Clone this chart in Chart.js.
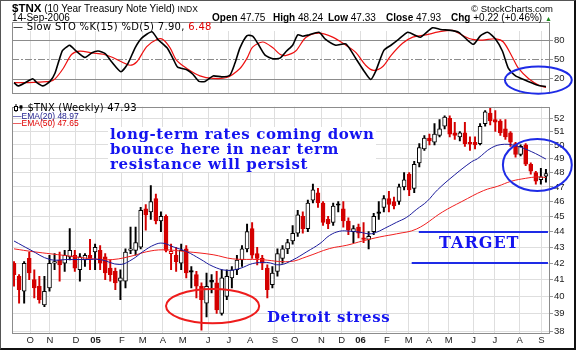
<!DOCTYPE html>
<html>
<head>
<meta charset="utf-8">
<script src="https://cdn.jsdelivr.net/npm/chart.js@4.4.1/dist/chart.umd.min.js"></script>
<style>
  html, body { margin: 0; padding: 0; background: #fff; }
  #wrap { position: relative; width: 576px; height: 350px; overflow: hidden; background: #fff; }
  canvas { position: absolute; left: 0; }
  #sto { top: 0; }
  #price { top: 100px; }
  .t { position: absolute; white-space: nowrap; font-family: "Liberation Sans", Arial, sans-serif; font-size: 10px; line-height: 12px; color: #000; }
  .lg { position: absolute; white-space: nowrap; font-family: "DejaVu Sans", sans-serif; font-size: 10px; line-height: 12px; letter-spacing: .3px; }
  .note { position: absolute; white-space: nowrap; font-family: "DejaVu Serif", serif; font-weight: bold; font-size: 15px; line-height: 15px; color: #1414f0; letter-spacing: .6px; }
  #border { position: absolute; left: 0; top: 0; width: 576px; height: 350px; box-sizing: border-box;
            border-left: 1px solid #555; border-top: 1px solid #555; border-right: 2px solid #111; border-bottom: 2px solid #111; }
</style>
</head>
<body>
<div id="wrap">
  <canvas id="sto" width="576" height="101"></canvas>
  <canvas id="price" width="576" height="250"></canvas>

  <!-- header -->
  <div class="t" style="left:12px;top:2px"><b style="font-size:11.5px">$TNX</b> (10 Year Treasury Note Yield) <span style="font-size:8.5px">INDX</span></div>
  <div class="t" style="right:23px;top:3px;font-size:9.5px">&copy; StockCharts.com</div>
  <div class="t" style="left:12px;top:12px">14-Sep-2006</div>
  <div class="t" style="left:212px;top:12px"><b>Open</b> 47.75</div>
  <div class="t" style="left:273px;top:12px"><b>High</b> 48.24</div>
  <div class="t" style="left:328px;top:12px"><b>Low</b> 47.33</div>
  <div class="t" style="left:386px;top:12px"><b>Close</b> 47.93</div>
  <div class="t" style="left:451px;top:12px"><b>Chg</b> +0.22 (+0.46%) <span style="font-size:7px;color:#1a8a1a">&#9650;</span></div>

  <!-- panel legends -->
  <div class="lg" style="left:13px;top:21px">&mdash; Slow STO %K(15) %D(5) 7.90, <span style="color:#e00000">6.48</span></div>
  <div class="lg" style="left:14px;top:102px;letter-spacing:.2px">
    <svg width="10" height="8" style="vertical-align:-1px"><line x1="2" y1="0" x2="2" y2="8" stroke="#000"/><rect x="0.5" y="2.5" width="3" height="4" fill="#fff" stroke="#000"/><line x1="7" y1="1" x2="7" y2="7" stroke="#000"/><rect x="5.5" y="1.5" width="3" height="3" fill="#000"/></svg> $TNX (Weekly) 47.93</div>
  <div class="t" style="left:13px;top:112px;font-size:8.5px;line-height:8px;color:#1c1c8c">&mdash;EMA(20) 48.97</div>
  <div class="t" style="left:13px;top:119px;font-size:8.5px;line-height:8px;color:#e00000">&mdash;EMA(50) 47.65</div>

  <!-- hand-written notes -->
  <div class="note" style="left:108px;top:127px;background:#fff;padding:0 2px">long-term rates coming down<br>bounce here in near term<br>resistance will persist</div>
  <div class="note" style="left:267px;top:310px">Detroit stress</div>
  <div class="note" style="left:439px;top:235px;font-size:16px;letter-spacing:1px">TARGET</div>

  <div id="border"></div>
</div>

<script>
// Weekly candles, week 0 = 10-Sep-2004 ... week 105 = 15-Sep-2006
let opens = [42.0, 41.2, 40.3, 42.3, 41.0, 40.6, 39.5, 40.5, 42.0, 42.2,
             42.0, 42.4, 42.5, 41.6, 42.2, 42.5, 42.7, 42.8, 42.4, 41.7,
             41.5, 40.9, 40.9, 42.8, 42.8, 43.0, 45.5, 45.3, 46.2, 44.7,
             45.0, 42.6, 42.5, 42.0, 42.9, 41.55, 41.3, 40.6, 39.6, 40.95,
             40.8, 39.0, 40.0, 41.1, 41.6, 42.2, 42.9, 44.2, 42.6, 42.3,
             41.7, 40.7, 41.5, 42.3, 42.9, 43.4, 43.9, 45.0, 44.2, 46.1,
             46.6, 45.9, 44.8, 44.6, 45.85, 45.5, 44.7, 44.0, 44.3, 43.6,
             43.5, 44.0, 45.3, 45.6, 46.2, 46.0, 46.0, 47.0, 47.9, 46.9,
             48.7, 49.7, 50.5, 50.2, 50.7, 51.4, 52.0, 50.9, 50.6, 50.9,
             50.2, 50.2, 50.1, 51.6, 52.4, 51.9, 51.8, 51.2, 50.9, 50.1,
             49.3, 50.0, 48.6, 48.0, 47.5, 47.75];
let highs = [42.1, 41.3, 42.1, 42.7, 41.6, 41.2, 41.2, 42.5, 42.6, 42.7,
             42.8, 44.2, 42.8, 42.6, 42.6, 43.5, 43.2, 43.1, 42.6, 42.2,
             41.7, 41.6, 42.9, 44.3, 44.3, 45.6, 45.8, 47.1, 46.5, 45.3,
             45.1, 43.2, 43.0, 43.2, 43.1, 41.8, 41.5, 40.8, 41.4, 41.3,
             41.5, 41.6, 41.6, 41.8, 42.5, 43.1, 44.5, 44.6, 43.0, 42.5,
             41.9, 41.8, 42.9, 43.1, 43.5, 44.4, 45.4, 45.3, 46.1, 47.2,
             46.9, 46.0, 45.0, 45.9, 46.0, 46.0, 44.9, 44.4, 44.5, 44.6,
             44.0, 45.2, 46.0, 46.4, 46.7, 46.3, 47.2, 48.0, 48.0, 48.8,
             50.1, 50.7, 50.8, 51.6, 51.9, 52.2, 52.2, 51.7, 51.0, 51.7,
             50.6, 50.6, 51.6, 52.6, 52.8, 52.6, 51.9, 51.9, 51.0, 50.2,
             50.0, 50.1, 48.7, 48.1, 48.3, 48.24];
let lows = [40.6, 39.6, 39.6, 41.0, 39.9, 39.6, 39.4, 40.3, 41.6, 40.9,
            41.5, 42.2, 41.5, 40.9, 41.8, 41.6, 41.6, 41.6, 41.0, 40.9,
            40.4, 39.8, 40.5, 42.6, 42.5, 42.9, 44.1, 44.8, 44.5, 44.0,
            42.7, 41.6, 41.5, 41.6, 41.1, 40.5, 39.9, 38.05, 38.8, 40.2,
            39.0, 38.9, 39.8, 40.5, 41.3, 41.8, 42.7, 42.3, 41.9, 41.6,
            39.9, 40.5, 41.2, 42.0, 42.6, 43.2, 43.7, 43.9, 44.0, 45.9,
            45.6, 44.4, 44.2, 44.4, 45.3, 44.3, 43.8, 43.3, 43.6, 43.3,
            42.9, 43.8, 44.8, 45.3, 45.3, 45.5, 45.8, 46.8, 46.4, 46.6,
            48.4, 49.6, 50.0, 50.0, 50.6, 51.2, 50.6, 50.4, 50.3, 49.9,
            49.6, 49.7, 50.0, 51.4, 51.5, 51.0, 50.7, 50.4, 49.9, 49.1,
            49.2, 48.5, 47.9, 47.2, 47.2, 47.33];
let closes = [41.3, 40.4, 42.0, 41.4, 40.5, 39.8, 40.3, 42.0, 42.1, 41.9,
              42.5, 42.8, 41.7, 42.4, 42.5, 42.3, 43.0, 42.0, 41.4, 41.3,
              40.8, 41.1, 42.7, 42.9, 43.3, 45.4, 45.1, 46.0, 44.7, 45.0,
              42.8, 42.75, 42.1, 42.8, 41.4, 41.45, 40.6, 39.8, 40.6, 40.85,
              39.2, 41.1, 41.2, 41.6, 42.2, 42.9, 44.0, 42.5, 42.3, 42.0,
              40.4, 41.4, 42.6, 42.9, 43.3, 43.9, 45.1, 44.2, 45.9, 46.8,
              45.9, 44.6, 44.5, 45.7, 45.75, 44.7, 44.1, 44.2, 43.9, 43.5,
              43.7, 45.0, 45.2, 46.2, 45.8, 45.7, 47.0, 47.5, 46.8, 48.6,
              49.8, 50.5, 50.3, 50.8, 51.2, 52.1, 50.8, 50.7, 50.9, 50.1,
              50.05, 50.0, 51.4, 52.5, 51.8, 51.7, 50.9, 50.6, 50.2, 49.3,
              49.9, 48.6, 48.1, 47.4, 47.71, 47.93];

// month grid lines (in weeks) and their labels
let monthPos = [3.2, 7.1, 12.2, 16.1, 21.3, 25.4, 29.4, 33.3, 38.3, 42.4, 46.6, 51.5,
                55.4, 60.7, 64.7, 68.4, 73.6, 77.9, 81.9, 85.8, 90.7, 94.9, 99.8, 104.1];
let monthLabels = ["O", "N", "D", "05", "F", "M", "A", "M", "J", "J", "A", "S",
                   "O", "N", "D", "06", "F", "M", "A", "M", "J", "J", "A", "S"];
let priceTicks = [38, 39, 40, 41, 42, 43, 44, 45, 46, 47, 48, 49, 50, 51, 52];
let stoTicks = [20, 50, 80];

// EMA lines
let ema20Week = [0, 3.2, 7.1, 10.4, 14.4, 17, 20.9, 23.5, 25.4, 27.8, 29.4, 31.4, 34.1, 36.7, 39.3,
                 42, 44.6, 47.1, 49.9, 52.5, 55, 57.8, 60.4, 62.3, 64.3, 66.3, 68.2, 70.2, 71.6,
                 73.6, 75.5, 77.5, 79.5, 81.5, 83.6, 87, 90.3, 91.5, 94.3, 96.8, 99.4, 102.2, 105];
let ema20Val = [43.4, 42.84, 42.23, 42.23, 42.23, 42.23, 41.92, 42.27, 42.72, 43.17, 43.26, 43.03,
                42.72, 42.27, 41.8, 41.56, 41.68, 41.98, 42.05, 41.9, 42.2, 42.72, 43.24, 43.76,
                44.03, 44.03, 43.97, 43.86, 43.97, 44.29, 44.61, 44.94, 45.48, 46.0, 46.8, 47.85,
                48.77, 49.0, 49.8, 50.05, 49.9, 49.5, 48.97];
let ema50Week = [0, 3.8, 10.4, 15.6, 19.5, 23.5, 26.2, 29.4, 34.1, 39.3, 43.2, 48.5, 54.4, 57.8,
                 62.3, 65.7, 68.8, 72.2, 75.5, 79.5, 84.6, 88.4, 92.7, 95.5, 98.2, 101, 103.4, 105];
let ema50Val = [42.9, 42.72, 42.47, 42.27, 42.23, 42.47, 42.72, 42.84, 42.72, 42.53, 42.27, 42.23,
                42.1, 42.41, 42.92, 43.13, 43.4, 43.66, 43.86, 44.18, 45.3, 46.0, 46.75, 47.05,
                47.4, 47.6, 47.7, 47.65];

// Slow stochastic %K(15) and %D(5)
let kWeek = [0, 0.8, 2.2, 3.7, 4.5, 5.7, 7.1, 8.1, 9.5, 10.5, 11, 12.4, 14, 15.4, 16.6, 18, 19.3,
             21.1, 22.5, 23.9, 25.2, 27.2, 28.4, 30.2, 31.4, 32.3, 34.1, 35.3, 36.5, 37.7, 39.3,
             41, 42.6, 43.6, 44.6, 46, 47.1, 48.1, 49.5, 51.1, 52.5, 53.8, 55, 56, 57, 58.2, 60.2,
             61.5, 63.5, 65.5, 67.5, 69, 70.4, 71.4, 73, 74.4, 75.9, 77.7, 79.3, 80.3, 82.6, 84.2,
             86.2, 87.8, 89.5, 90.7, 92.1, 93.5, 95.1, 96.4, 97.6, 99, 100.6, 102.4, 103.4, 105];
let kVal = [14, 9, 14, 20, 14, 9, 16, 29, 63, 70, 72, 62, 53, 60.5, 63, 59, 46, 31, 44, 68,
            83, 93, 81, 68, 51, 38, 34, 27, 16, 16, 24.5, 23, 25.5, 44, 68, 87, 86, 75, 57, 51,
            52, 63, 72, 88, 86, 88, 92, 81, 72, 74, 51, 33, 19, 32, 64, 72, 81, 92, 87, 84.6,
            99, 96.5, 95, 92, 80, 73.5, 87, 92, 81, 63, 36, 24.5, 19, 13, 10, 7.9];
let dWeek = [0, 2.5, 5.1, 7.1, 8.1, 9.7, 11.4, 13, 15.4, 17.6, 19.5, 21.3, 22.9, 24.2, 26.2, 28.2,
             29.4, 30.8, 32.1, 34.1, 36.7, 39.3, 42, 44.6, 46, 47.1, 49.1, 51.1, 52.5, 53.6, 55.6,
             57.6, 60.2, 62.9, 65.5, 67.5, 69.4, 71, 72.8, 74.4, 76.7, 78.7, 81.3, 83.8, 86.6,
             88.6, 90.5, 92.5, 95.1, 96.6, 98.4, 99.6, 101.6, 103.6, 105];
let dVal = [14, 14, 15, 16, 20, 36, 58, 63, 60, 58, 53, 46, 41, 46, 70, 81, 81, 68, 48.5, 36,
            24.5, 20.6, 22, 36, 52, 69, 77, 68, 58, 56, 63, 84, 90.8, 84.6, 72, 60.5, 41, 33, 39, 56,
            75, 84.6, 88, 92.6, 95, 87, 81, 80, 82, 77, 53, 36, 20, 10, 6.48];

// chart notes (week / value units)
let targetLines = [{ level: 44, from: 79.9, to: 105.4 }, { level: 42, from: 78.5, to: 105.4 }];
let priceRings = [{ x0: 30, x1: 48.4, y0: 38.44, y1: 40.44, color: "#ee1c1c" },
                  { x0: 96.5, x1: 110.1, y0: 46.72, y1: 50.44, color: "#1e2be6" }];
let stoRings = [{ x0: 96.9, x1: 110.1, y0: -3, y1: 39, color: "#1e2be6" }];

const X_MIN = -0.4, X_MAX = 105.8;
const RED = "#d40000";
const GRID = "#dedede";
Chart.defaults.font.family = '"Liberation Sans", Arial, sans-serif';

const candleColor = closes.map((c, i) => (i > 0 ? c < closes[i - 1] : c < opens[i]) ? RED : "#000");
const candleFill = closes.map((c, i) => c < opens[i] ? candleColor[i] : "#fff");

function pts(xs, ys) {
    return xs.map((x, i) => ({ x: x, y: ys[i] }));
}

function drawRings(chart, rings) {
    let ctx = chart.ctx, x = chart.scales.x, y = chart.scales.y;
    rings.forEach(r => {
        let x1 = x.getPixelForValue(r.x0), x2 = x.getPixelForValue(r.x1);
        let y1 = y.getPixelForValue(r.y0), y2 = y.getPixelForValue(r.y1);
        ctx.strokeStyle = r.color;
        ctx.lineWidth = 2;
        ctx.beginPath();
        ctx.ellipse((x1 + x2) / 2, (y1 + y2) / 2, Math.abs(x2 - x1) / 2, Math.abs(y2 - y1) / 2, 0, 0, Math.PI * 2);
        ctx.stroke();
    });
}

// grey frame round the plot area
const framePlugin = {
    id: "frame",
    afterDatasetsDraw(chart) {
        let a = chart.chartArea, ctx = chart.ctx;
        ctx.save();
        ctx.strokeStyle = "#8c8c8c";
        ctx.lineWidth = 1;
        ctx.strokeRect(Math.round(a.left) + 0.5, Math.round(a.top) + 0.5,
                       Math.round(a.right - a.left) - 1, Math.round(a.bottom - a.top) - 1);
        ctx.restore();
    }
};

// 20 / 50 / 80 lines of the stochastic panel
const stoLines = {
    id: "stoLines",
    beforeDatasetsDraw(chart) {
        let ctx = chart.ctx, a = chart.chartArea, y = chart.scales.y;
        ctx.save();
        ctx.fillStyle = "#fff";
        ctx.fillRect(a.left + 1, a.top + 1, a.right - a.left - 2, 8);
        stoTicks.forEach(v => {
            let py = Math.round(y.getPixelForValue(v)) + 0.5;
            ctx.strokeStyle = "#8c8c8c";
            ctx.lineWidth = 1;
            ctx.setLineDash(v === 50 ? [7, 2, 2, 2] : []);
            ctx.beginPath();
            ctx.moveTo(a.left, py);
            ctx.lineTo(a.right, py);
            ctx.stroke();
        });
        ctx.restore();
    },
    afterDraw(chart) {
        chart.ctx.save();
        drawRings(chart, stoRings);
        chart.ctx.restore();
    }
};

const notesPlugin = {
    id: "notes",
    afterDraw(chart) {
        let ctx = chart.ctx, x = chart.scales.x, y = chart.scales.y;
        ctx.save();
        targetLines.forEach(t => {
            let py = Math.round(y.getPixelForValue(t.level));
            ctx.strokeStyle = "#1e2be6";
            ctx.lineWidth = 2;
            ctx.beginPath();
            ctx.moveTo(x.getPixelForValue(t.from), py);
            ctx.lineTo(x.getPixelForValue(t.to), py);
            ctx.stroke();
        });
        drawRings(chart, priceRings);
        ctx.restore();
    }
};

function monthAxis(showLabels) {
    return {
        type: "linear",
        min: X_MIN,
        max: X_MAX,
        bounds: "data",
        offset: false,
        afterBuildTicks: s => { s.ticks = monthPos.map(v => ({ value: v })); },
        afterFit: s => { s.height = showLabels ? 14 : 0; },
        ticks: {
            display: showLabels,
            autoSkip: false,
            maxRotation: 0,
            padding: 1,
            color: "#222",
            callback: (v, i) => monthLabels[i],
            font: ctx => ({ size: 9.5, weight: /\d/.test(monthLabels[ctx.index]) ? "bold" : "normal" })
        },
        grid: { color: GRID, drawTicks: false, offset: false },
        border: { display: false }
    };
}

// Stochastic panel
new Chart(document.getElementById("sto"), {
    type: "line",
    data: {
        datasets: [
            { label: "%K", data: pts(kWeek, kVal), borderColor: "#000", borderWidth: 1.6, pointRadius: 0, tension: 0.2 },
            { label: "%D", data: pts(dWeek, dVal), borderColor: "#ee1111", borderWidth: 1.2, pointRadius: 0, tension: 0.3 }
        ]
    },
    options: {
        responsive: false,
        animation: false,
        events: [],
        layout: { padding: { left: 12, top: 22, right: 0, bottom: 1 } },
        plugins: { legend: { display: false }, tooltip: { enabled: false } },
        scales: {
            x: monthAxis(false),
            y: {
                position: "right",
                min: -4,
                max: 108,
                afterBuildTicks: s => { s.ticks = stoTicks.map(v => ({ value: v })); },
                afterFit: s => { s.width = 26; },
                ticks: { color: "#222", padding: 1, font: { size: 9.5 } },
                grid: { drawOnChartArea: false, tickLength: 3, color: "#999" },
                border: { display: false }
            }
        }
    },
    plugins: [stoLines, framePlugin]
});

// Price panel
const weeks = closes.map((c, i) => i);
new Chart(document.getElementById("price"), {
    type: "bar",
    data: {
        datasets: [
            { type: "line", label: "EMA(20)", data: pts(ema20Week, ema20Val), borderColor: "#1c1c9c",
              borderWidth: 1, pointRadius: 0, tension: 0.4, order: 1 },
            { type: "line", label: "EMA(50)", data: pts(ema50Week, ema50Val), borderColor: "#f02020",
              borderWidth: 1, pointRadius: 0, tension: 0.4, order: 1 },
            { label: "body", data: weeks.map(i => ({ x: i, y: [opens[i], closes[i]] })),
              backgroundColor: candleFill, borderColor: candleColor, borderWidth: 1, borderSkipped: false,
              barThickness: 4, minBarLength: 1, grouped: false, order: 2 },
            { label: "wick", data: weeks.map(i => ({ x: i, y: [lows[i], highs[i]] })),
              backgroundColor: candleColor, borderWidth: 0, barThickness: 1.3, grouped: false, order: 3 }
        ]
    },
    options: {
        responsive: false,
        animation: false,
        events: [],
        layout: { padding: { left: 12, top: 2, right: 0, bottom: 2 } },
        plugins: { legend: { display: false }, tooltip: { enabled: false } },
        scales: {
            x: monthAxis(true),
            y: {
                type: "logarithmic",
                position: "right",
                min: 37.84,
                max: 52.9,
                bounds: "data",
                afterBuildTicks: s => { s.ticks = priceTicks.map(v => ({ value: v })); },
                afterFit: s => { s.width = 26; },
                ticks: { color: "#222", padding: 1, font: { size: 9.5 }, callback: v => String(v) },
                grid: { color: GRID, tickLength: 3, tickColor: "#999" },
                border: { display: false }
            }
        }
    },
    plugins: [framePlugin, notesPlugin]
});
</script>
</body>
</html>
